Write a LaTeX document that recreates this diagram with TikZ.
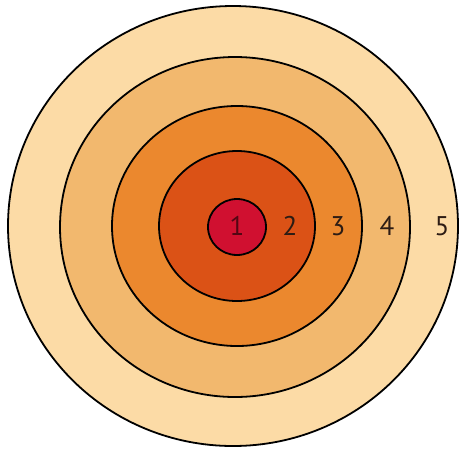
\documentclass[tikz,border=0pt]{standalone}
\usepackage{fontspec}
\setmainfont{PT Sans}
\definecolor{ringfive}{RGB}{252,219,166}
\definecolor{ringfour}{RGB}{242,184,110}
\definecolor{ringthree}{RGB}{235,136,46}
\definecolor{ringtwo}{RGB}{219,82,22}
\definecolor{ringone}{RGB}{208,16,48}
\definecolor{digit}{RGB}{45,28,20}
\begin{document}
\begin{tikzpicture}[x=1pt, y=-1pt, ring/.style={draw=black, line width=1.8pt}, num/.style={font=\fontsize{27}{30}\selectfont, text=digit, inner sep=0pt}]
      \useasboundingbox (0,0) rectangle (462,448);
      \fill[white] (0,0) rectangle (462,448);
      % rings, outside in
      \filldraw[ring, fill=ringfive] (233,226) ellipse [x radius=225, y radius=220];
      \filldraw[ring, fill=ringfour] (235,227) ellipse [x radius=175, y radius=170];
      \filldraw[ring, fill=ringthree] (237,226) ellipse [x radius=125, y radius=120];
      \filldraw[ring, fill=ringtwo] (237,226) ellipse [x radius=78, y radius=75];
      \filldraw[ring, fill=ringone] (237,227) ellipse [x radius=29, y radius=28];
      % scores
      \node[num, text=ringone!40!black] (one) at (237,226) {1};
      \node[num] (two) at (290,226) {2};
      \node[num] (three) at (338,226) {3};
      \node[num] (four) at (387,226) {4};
      \node[num] (five) at (442,226) {5};
    \end{tikzpicture}
\end{document}
